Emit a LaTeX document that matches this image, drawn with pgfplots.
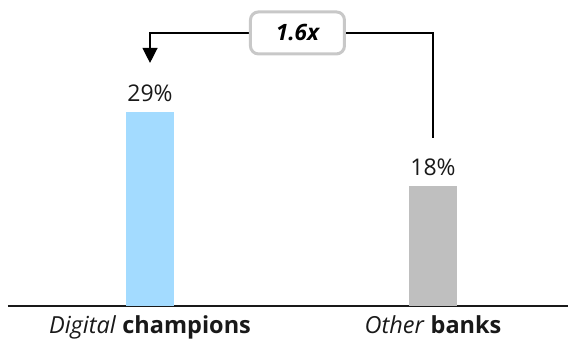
\documentclass[border=0pt]{standalone}
\usepackage{fontspec}
\setmainfont{Open Sans}
\usepackage{pgfplots}
\pgfplotsset{compat=1.18}
\usetikzlibrary{arrows.meta}
\definecolor{barblue}{HTML}{A3DBFF}
\definecolor{bargray}{HTML}{BFBFBF}
\definecolor{boxgray}{HTML}{C8C8C8}
\begin{document}
\begin{tikzpicture}[x=1pt,y=1pt]
\begin{axis}[
  at={(8pt,36pt)}, anchor=south west,
  scale only axis, width=560pt, height=306pt,
  xmin=-0.5018, xmax=1.477, ymin=0, ymax=45.8,
  axis x line=bottom, hide y axis,
  x axis line style={-, line width=2pt, color=black!90},
  xtick={0,1}, major tick length=0pt,
  xticklabels={{\textit{Digital} \textbf{champions}},{\textit{Other} \textbf{banks}}},
  every x tick label/.append style={font=\fontsize{23.5}{27}\selectfont, anchor=base, yshift=-28pt, text=black!90},
  ybar, bar width=48pt,
  /pgf/number format/assume math mode=true,
  nodes near coords={\pgfmathprintnumber{\pgfplotspointmeta}\%},
  every node near coord/.append style={font=\fontsize{23}{27}\selectfont, anchor=base, yshift=10.6pt, text=black!90},
  clip=false,
]
\addplot[fill=barblue, draw=none, bar shift=0pt] coordinates {(0,29)};
\addplot[fill=bargray, draw=none, bar shift=0pt] coordinates {(1,18)};
\draw[line width=1.3pt, -{Triangle[length=15pt,width=15pt]}]
  (axis cs:1,25.15) -- (axis cs:1,40.87) -- (axis cs:0,40.87) -- (axis cs:0,36.38);
\node[draw=boxgray, line width=3pt, fill=white, rounded corners=8pt,
  minimum width=94pt, minimum height=42pt, inner sep=0pt,
  font=\fontsize{22.5}{26}\selectfont\bfseries\itshape]
  at (axis cs:0.521,40.87) {1.6x};
\end{axis}
\pgfresetboundingbox
\path (0,0) rectangle (568,342);
\end{tikzpicture}
\end{document}
